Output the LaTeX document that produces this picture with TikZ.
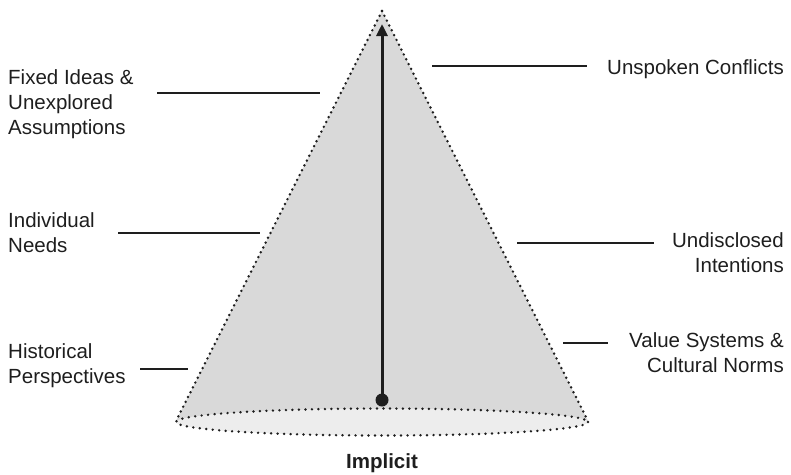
\documentclass[tikz,border=0pt]{standalone}
\usepackage{fontspec}
\setmainfont{Liberation Sans}
\usetikzlibrary{positioning, arrows.meta}
\definecolor{conefill}{HTML}{D9D9D9}
\definecolor{basefill}{HTML}{EDEDED}
\definecolor{ink}{HTML}{1E1E1E}

\begin{document}
\begin{tikzpicture}[
    x=1pt, y=-1pt,
    font=\fontsize{20.5}{25}\selectfont,
    every node/.style={inner sep=0pt, text=ink},
    lbl/.style={align=left, anchor=west},
    rlbl/.style={align=right, anchor=east},
    leader/.style={draw=ink, line width=1.2pt},
    rim/.style={draw=ink, line width=2.7pt, line cap=round, dash pattern=on 0pt off 5.4pt},
    rimbase/.style={rim, dash pattern=on 0pt off 6.5pt},
    axis/.style={draw=ink, line width=3pt, -{Triangle[length=12pt, width=11pt]}}
]
\useasboundingbox (0,0) rectangle (791,474);

% --- Cone ---
\coordinate (apex) at (382,11);
\coordinate (base) at (382,422);
\coordinate (rimL) at (176,421);
\coordinate (rimR) at (588,421);
\fill[conefill] (apex) -- (rimL) -- (rimR) -- cycle;
\draw[rimbase, fill=basefill] (base) ellipse [x radius=206, y radius=13.5];
\draw[rim] (apex) -- (rimL);
\draw[rim] (apex) -- (rimR);

% --- Axis ---
\coordinate (tip) at (382,24);
\node[circle, fill=ink, minimum size=13pt] (root) at (382,400) {};
\draw[axis] (root.center) -- (tip);

% --- Left labels ---
\node[lbl] (fixed) at (8,103.7) {Fixed Ideas \&\\Unexplored\\Assumptions};
\node[lbl] (needs) at (8,233) {Individual\\Needs};
\node[lbl] (hist) at (8,366) {Historical\\Perspectives};

% --- Right labels ---
\node[rlbl] (unspoken) at (784,69.6) {Unspoken Conflicts};
\node[rlbl] (intent) at (784,253) {Undisclosed\\Intentions};
\node[rlbl] (values) at (784,353) {Value Systems \&\\Cultural Norms};

\node[font=\fontsize{20.5}{25}\selectfont\bfseries, anchor=base] (implicit) at (382,468) {Implicit};

% --- Leaders ---
\coordinate (fixedA) at (157,93);  \coordinate (fixedB) at (320,93);
\coordinate (needsA) at (118,233); \coordinate (needsB) at (260,233);
\coordinate (histA) at (140,369);  \coordinate (histB) at (188,369);
\coordinate (unspA) at (432,66);   \coordinate (unspB) at (587,66);
\coordinate (intA) at (517,243);   \coordinate (intB) at (654,243);
\coordinate (valA) at (563,343);   \coordinate (valB) at (608,343);
\draw[leader] (fixedA) -- (fixedB);
\draw[leader] (needsA) -- (needsB);
\draw[leader] (histA) -- (histB);
\draw[leader] (unspA) -- (unspB);
\draw[leader] (intA) -- (intB);
\draw[leader] (valA) -- (valB);

\end{tikzpicture}
\end{document}
